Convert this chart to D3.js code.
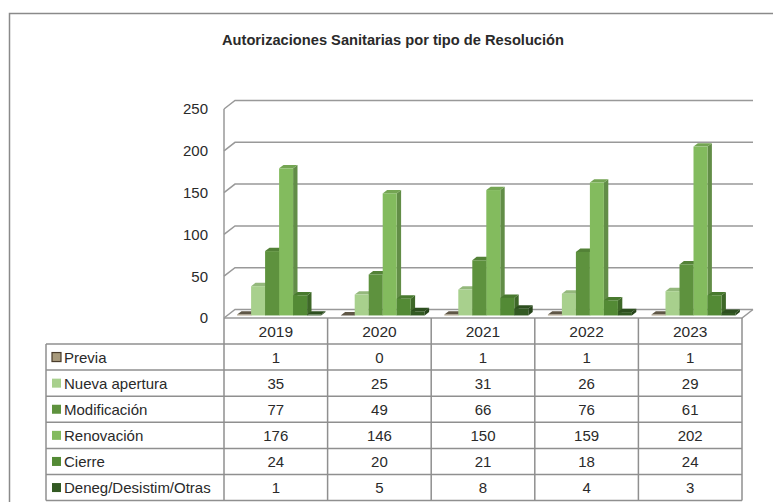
<!DOCTYPE html>
<html>
<head>
<meta charset="utf-8">
<script src="https://cdn.jsdelivr.net/npm/d3@7"></script>
<style>
  html, body { margin: 0; padding: 0; background: #fff; }
  svg { display: block; }
  text { font-family: 'Liberation Sans', Arial, sans-serif; fill: #2a2a2a; }
</style>
</head>
<body>
<svg width="773" height="502"></svg>
<script>
const years = ['2019', '2020', '2021', '2022', '2023']
const seriesNames = ['Previa', 'Nueva apertura', 'Modificación', 'Renovación', 'Cierre', 'Deneg/Desistim/Otras']
const previa = [1, 0, 1, 1, 1]
const nuevaApertura = [35, 25, 31, 26, 29]
const modificacion = [77, 49, 66, 76, 61]
const renovacion = [176, 146, 150, 159, 202]
const cierre = [24, 20, 21, 18, 24]
const deneg = [1, 5, 8, 4, 3]
const seriesColors = ['#a89a7c', '#a8d08d', '#5e923e', '#83bb5e', '#538a35', '#335a23']
const yTicks = [0, 50, 100, 150, 200, 250]

const seriesValues = [previa, nuevaApertura, modificacion, renovacion, cierre, deneg]

const svg = d3.select('svg')
const gridColor = '#999'

// chart frame (runs off the right and bottom)
svg.append('path')
  .attr('d', 'M9.5,502V13.5H773')
  .attr('fill', 'none')
  .attr('stroke', '#8a8a8a')
  .attr('stroke-width', 1.5)

svg.append('text')
  .attr('x', 393)
  .attr('y', 45)
  .attr('text-anchor', 'middle')
  .attr('font-family', "'Liberation Sans Narrow', 'Liberation Sans', sans-serif")
  .attr('font-weight', 'bold')
  .attr('font-size', '15px')
  .attr('textLength', 342)
  .attr('lengthAdjust', 'spacingAndGlyphs')
  .attr('fill', '#111')
  .text('Autorizaciones Sanitarias por tipo de Resolución')

// scales: front plane of the 3D box, depth is an offset up and to the right
const x0 = d3.scaleBand().domain(years).range([224, 742])
const xs = d3.scaleBand().domain(seriesNames).range([0, x0.bandwidth()]).paddingOuter(0.7)
const y = d3.scaleLinear().domain([0, 250]).range([318, 109])
const DX = 11, DY = -8.5
const t0 = 0.3, t1 = 0.7  // bar depth within the box

//#region walls
const walls = svg.append('g')
  .attr('fill', 'none')
  .attr('stroke', gridColor)
  .attr('stroke-width', 1.5)

walls.selectAll('.grid')
  .data(yTicks)
  .join('path')
  .attr('class', 'grid')
  .attr('d', d => `M${x0.range()[0]},${y(d)}L${x0.range()[0] + DX},${y(d) + DY}H${x0.range()[1] + DX}`)

// floor front edge and right side
walls.append('path')
  .attr('d', `M${x0.range()[0]},${y(0)}H${x0.range()[1]}L${x0.range()[1] + DX},${y(0) + DY}`)

walls.append('line')
  .attr('x1', x0.range()[0]).attr('x2', x0.range()[0])
  .attr('y1', y(250)).attr('y2', y(0))
//#endregion

//#region y axis labels
svg.append('g')
  .attr('transform', `translate(${x0.range()[0]},0)`)
  .call(d3.axisLeft(y).tickValues(yTicks).tickSize(0).tickPadding(16).tickFormat(d3.format('d')))
  .call(g => g.select('.domain').remove())
  .selectAll('text')
  .attr('font-family', "'Liberation Sans', Arial, sans-serif")
  .attr('font-size', '15px')
  .attr('fill', '#2a2a2a')
//#endregion

//#region bars
const barData = []
years.forEach((yr, i) => {
  seriesNames.forEach((s, j) => {
    barData.push({ year: yr, series: s, value: seriesValues[j][i], color: seriesColors[j] })
  })
})

const bw = xs.bandwidth()
const ddx = DX * (t1 - t0), ddy = DY * (t1 - t0)

const bars = svg.append('g')
  .selectAll('g')
  .data(barData)
  .join('g')

bars.each(function (d) {
  const g = d3.select(this)
  const xl = x0(d.year) + xs(d.series) + DX * t0
  const yb = y(0) + DY * t0
  const yt = y(d.value) + DY * t0
  const c = d3.color(d.color)
  g.append('path')  // side
    .attr('d', `M${xl + bw},${yb}L${xl + bw + ddx},${yb + ddy}L${xl + bw + ddx},${yt + ddy}L${xl + bw},${yt}Z`)
    .attr('fill', c.darker(0.8))
  g.append('path')  // top
    .attr('d', `M${xl},${yt}L${xl + ddx},${yt + ddy}H${xl + bw + ddx}L${xl + bw},${yt}Z`)
    .attr('fill', d.series === 'Previa' ? c.darker(1.6) : c.darker(0.35))
  g.append('rect')  // front
    .attr('x', xl)
    .attr('y', yt)
    .attr('width', bw)
    .attr('height', Math.max(0, yb - yt))
    .attr('fill', d.color)
})
//#endregion

//#region data table
const tableLeft = 46
const headerTop = y(0)
const rowTop = 344
const rowH = 26.1
const tableBottom = rowTop + rowH * seriesNames.length

const table = svg.append('g')
  .attr('stroke', '#8f8f8f')
  .attr('stroke-width', 1.5)
  .attr('fill', 'none')

// horizontal rules
table.selectAll('.hrule')
  .data(d3.range(seriesNames.length + 1))
  .join('line')
  .attr('class', 'hrule')
  .attr('x1', tableLeft)
  .attr('x2', x0.range()[1])
  .attr('y1', i => rowTop + i * rowH)
  .attr('y2', i => rowTop + i * rowH)

// vertical rules
const colEdges = years.map(yr => x0(yr)).concat([x0.range()[1]])
table.selectAll('.vrule')
  .data(colEdges)
  .join('line')
  .attr('class', 'vrule')
  .attr('x1', d => d).attr('x2', d => d)
  .attr('y1', headerTop)
  .attr('y2', tableBottom)

table.append('line')
  .attr('x1', tableLeft).attr('x2', tableLeft)
  .attr('y1', rowTop).attr('y2', tableBottom)

// year headers
svg.append('g')
  .selectAll('text')
  .data(years)
  .join('text')
  .attr('x', d => x0(d) + x0.bandwidth() / 2)
  .attr('y', (headerTop + rowTop) / 2 + 6)
  .attr('text-anchor', 'middle')
  .attr('font-size', '15.5px')
  .text(d => d)

const rows = svg.append('g')
  .selectAll('g')
  .data(seriesNames)
  .join('g')
  .attr('transform', (d, j) => `translate(0,${rowTop + j * rowH})`)

rows.append('rect')
  .attr('x', 52)
  .attr('y', rowH / 2 - 4.5)
  .attr('width', 9)
  .attr('height', 9)
  .attr('fill', (d, j) => seriesColors[j])
  .attr('stroke', d => d === 'Previa' ? '#4a3c2c' : 'none')
  .attr('stroke-width', 1.2)

rows.append('text')
  .attr('x', 64)
  .attr('y', rowH / 2 + 5.5)
  .attr('font-size', '15px')
  .text(d => d)

rows.each(function (s, j) {
  d3.select(this).selectAll('.val')
    .data(seriesValues[j])
    .join('text')
    .attr('class', 'val')
    .attr('x', (d, i) => x0(years[i]) + x0.bandwidth() / 2)
    .attr('y', rowH / 2 + 5.5)
    .attr('text-anchor', 'middle')
    .attr('font-size', '15px')
    .text(d => d)
})
//#endregion
</script>
</body>
</html>
